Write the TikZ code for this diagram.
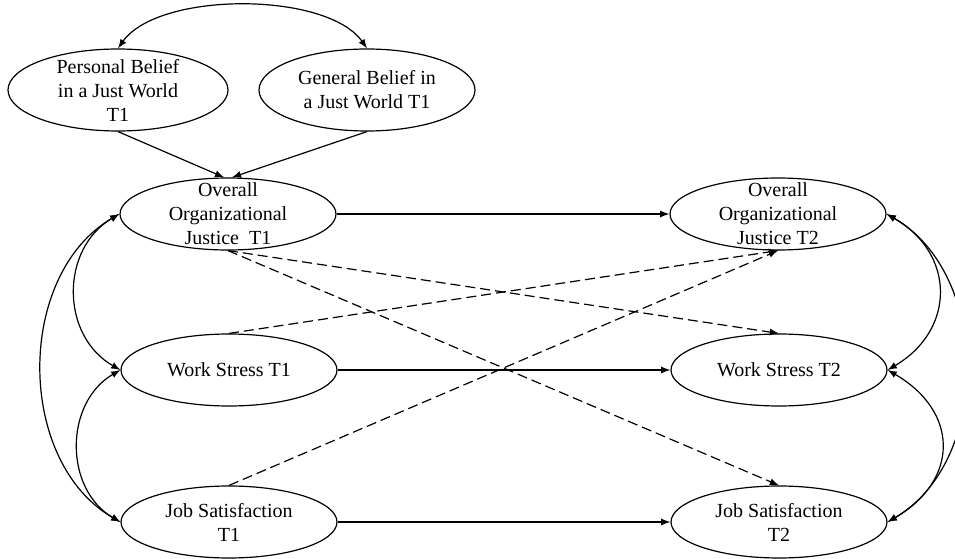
\documentclass[tikz,border=0pt]{standalone}
\usepackage{fontspec}
\setmainfont{Liberation Serif}
\usetikzlibrary{shapes.geometric}

\begin{document}
\begin{tikzpicture}[>=latex, x=0.5pt, y=0.5pt, line width=0.6pt,
  construct/.style={ellipse, draw, align=center, inner sep=-5pt, minimum width=108pt, minimum height=36pt},
  dashpath/.style={->, dash pattern=on 5pt off 2.5pt}]

\useasboundingbox (0,0) rectangle (955,558);

% Beliefs in a just world
\node[construct, minimum width=110pt, minimum height=41pt] (pbjw) at (118,468) {Personal Belief\\in a Just World\\T1};
\node[construct, minimum height=41pt] (gbjw) at (367,468) {General Belief in\\a Just World T1};

% Time 1 constructs
\node[construct] (ojA) at (228,344) {Overall\\Organizational\\Justice~ T1};
\node[construct] (wsA) at (229,188) {Work Stress T1};
\node[construct] (jsA) at (229,36) {Job Satisfaction\\T1};

% Time 2 constructs
\node[construct] (ojB) at (778,344) {Overall\\Organizational\\Justice T2};
\node[construct] (wsB) at (779,188) {Work Stress T2};
\node[construct] (jsB) at (779,36) {Job Satisfaction\\T2};

% Correlation of beliefs
\draw[<->] (pbjw.north) to[bend left=55, looseness=0.72] (gbjw.north);

% Beliefs to justice
\draw[->] (pbjw.south) -- (ojA.96);
\draw[->] (gbjw.south) -- (ojA.84);

% Stability paths
\draw[->] (ojA) -- (ojB);
\draw[->] (wsA) -- (wsB);
\draw[->] (jsA) -- (jsB);

% Cross-lagged paths
\draw[dashpath] (ojA.south) -- (wsB.north);
\draw[dashpath] (ojA.south) -- (jsB.north);
\draw[dashpath] (wsA.north) -- (ojB.south);
\draw[dashpath] (jsA.north) -- (ojB.south);

% Correlations at T1
\draw[<->] (ojA.west) to[bend right=60, looseness=1.13] (wsA.west);
\draw[<->] (ojA.west) to[bend right=60] (jsA.west);
\draw[<->] (wsA.west) to[bend right=60, looseness=1.1] (jsA.west);

% Correlations at T2
\draw[<->] (ojB.east) to[bend left=60, looseness=1.3] (wsB.east);
\draw[<->] (ojB.east) to[bend left=60] (jsB.east);
\draw[<->] (wsB.east) to[bend left=60, looseness=1.4] (jsB.east);

\end{tikzpicture}
\end{document}
